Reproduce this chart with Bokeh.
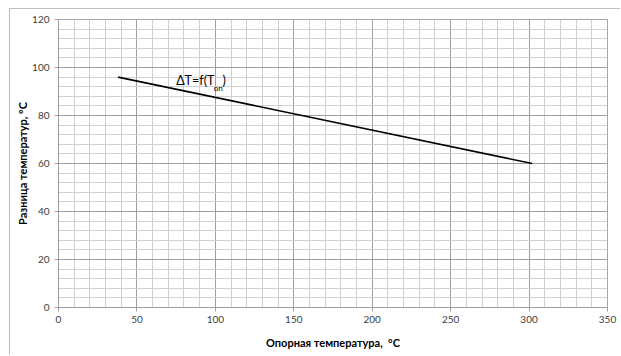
from bokeh.plotting import figure
from bokeh.models import SingleIntervalTicker, Label, Range1d
from bokeh.embed import file_html
from bokeh.resources import INLINE

# data
t_ref = [38, 302]
delta_t = [96, 60]
x_title = "Опорная температура,\u00a0 °С"
y_title = "Разница температур, °С"
curve_label = "ΔT=f(T"
curve_sub = "оп"

FONT = "Lato"

p = figure(width=611, height=347, output_backend="svg", toolbar_location=None,
           x_range=Range1d(0, 350), y_range=Range1d(0, 120),
           min_border_left=48, min_border_right=14, min_border_top=10, min_border_bottom=49)
p.styles = {"margin-left": "9px", "margin-top": "8px",
            "border-left": "1px solid #bfbfbf", "border-top": "1px solid #bfbfbf"}
p.background_fill_color = "white"
p.border_fill_color = "white"
p.outline_line_color = "#a6a6a6"
p.outline_line_width = 1

p.xaxis.ticker = SingleIntervalTicker(interval=50, num_minor_ticks=5)
p.yaxis.ticker = SingleIntervalTicker(interval=20, num_minor_ticks=5)

for g in (p.xgrid, p.ygrid):
    g.grid_line_color = "#a0a0a0"
    g.grid_line_width = 1
    g.minor_grid_line_color = "#d0d0d0"
    g.minor_grid_line_width = 1

for ax in (p.xaxis, p.yaxis):
    ax.axis_line_color = "#a0a0a0"
    ax.major_tick_line_color = "#a0a0a0"
    ax.major_tick_out = 4
    ax.major_tick_in = 0
    ax.minor_tick_line_color = None
    ax.major_label_text_font = FONT
    ax.major_label_text_font_size = "10px"
    ax.major_label_text_color = "#404040"
    ax.axis_label_text_font = FONT
    ax.axis_label_text_font_size = "11px"
    ax.axis_label_text_font_style = "bold"
    ax.axis_label_text_color = "#000000"

p.xaxis.axis_label = x_title
p.yaxis.axis_label = y_title
p.xaxis.major_label_standoff = 4
p.xaxis.axis_label_standoff = 10
p.yaxis.major_label_standoff = 5
p.yaxis.axis_label_standoff = 0

p.line(t_ref, delta_t, line_color="black", line_width=1.6)

p.add_layout(Label(x=75, y=91.5, text=curve_label, text_font=FONT, text_font_size="12.5px",
                   text_color="black"))
p.add_layout(Label(x=99, y=89.5, text=curve_sub, text_font=FONT, text_font_size="8px",
                   text_color="black"))
p.add_layout(Label(x=104.5, y=91.5, text=")", text_font=FONT, text_font_size="12.5px",
                   text_color="black"))

open("out.html", "w").write(file_html(p, INLINE))
